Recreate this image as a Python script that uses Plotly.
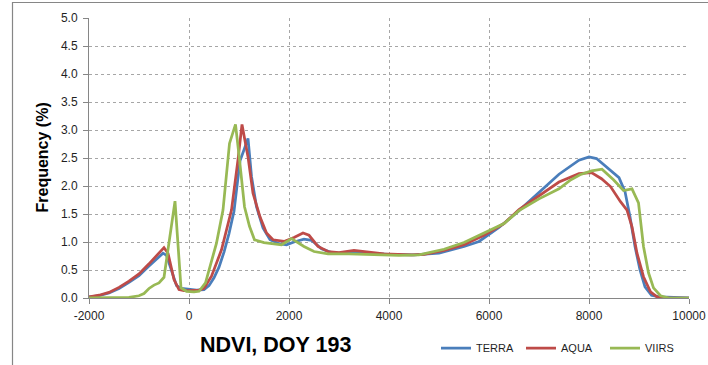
import plotly.graph_objects as go

# NDVI frequency distributions, DOY 193
terra_x = [-2000, -1800, -1600, -1400, -1200, -1000, -800, -600, -520, -450, -350, -250, -150, 0, 150, 300,
           400, 500, 600, 700, 800, 900, 1020, 1110, 1180, 1250, 1350, 1480, 1620, 1800, 1950, 2100, 2300,
           2450, 2650, 2850, 3000, 3300, 3600, 4000, 4500, 5000, 5500, 5800, 6200, 6600, 7000, 7400, 7800,
           8000, 8150, 8400, 8600, 8720, 8820, 8920, 9020, 9120, 9250, 9400, 9600, 10000]
terra_y = [0.02, 0.04, 0.09, 0.17, 0.28, 0.40, 0.57, 0.74, 0.80, 0.76, 0.50, 0.22, 0.17, 0.15, 0.14, 0.15,
           0.22, 0.36, 0.55, 0.82, 1.15, 1.55, 2.45, 2.67, 2.85, 2.17, 1.63, 1.25, 1.04, 0.97, 0.95, 1.00, 1.05,
           1.03, 0.88, 0.81, 0.80, 0.80, 0.80, 0.78, 0.77, 0.80, 0.92, 1.01, 1.26, 1.56, 1.88, 2.21, 2.46,
           2.52, 2.49, 2.30, 2.15, 1.90, 1.45, 0.92, 0.50, 0.20, 0.05, 0.02, 0.01, 0.00]

aqua_x = [-2000, -1800, -1600, -1400, -1200, -1000, -800, -600, -500, -420, -300, -200, -100, 0, 200, 300,
          450, 650, 850, 980, 1060, 1180, 1280, 1420, 1550, 1680, 1900, 2100, 2280, 2400, 2580, 2780, 3000,
          3300, 3600, 3900, 4450, 4700, 5100, 5500, 5900, 6300, 6600, 7000, 7400, 7800, 8050, 8250, 8430,
          8630, 8760, 8860, 8960, 9090, 9230, 9360, 9600, 10000]
aqua_y = [0.02, 0.05, 0.10, 0.19, 0.30, 0.43, 0.61, 0.80, 0.90, 0.80, 0.33, 0.15, 0.13, 0.13, 0.14, 0.17,
          0.39, 0.86, 1.57, 2.47, 3.10, 2.52, 1.87, 1.45, 1.16, 1.04, 1.01, 1.08, 1.16, 1.12, 0.92, 0.83, 0.81,
          0.85, 0.82, 0.79, 0.77, 0.78, 0.85, 0.95, 1.12, 1.33, 1.58, 1.83, 2.07, 2.22, 2.24, 2.13, 1.99,
          1.72, 1.57, 1.27, 0.80, 0.38, 0.11, 0.02, 0.00, 0.00]

viirs_x = [-2000, -1600, -1300, -1200, -1000, -900, -800, -700, -600, -500, -280, -160, -50, 100, 200, 330,
           550, 680, 810, 930, 1010, 1110, 1210, 1310, 1500, 1850, 2050, 2300, 2500, 2780, 3200, 3600, 4000,
           4200, 4600, 5100, 5500, 5900, 6300, 6600, 7000, 7400, 7620, 7820, 8050, 8260, 8490, 8690, 8860,
           8990, 9090, 9190, 9290, 9430, 9600, 10000]
viirs_y = [0.00, 0.00, 0.00, 0.01, 0.04, 0.08, 0.17, 0.23, 0.27, 0.37, 1.73, 0.18, 0.12, 0.11, 0.12, 0.27,
           0.98, 1.57, 2.76, 3.10, 2.47, 1.63, 1.28, 1.04, 0.99, 0.95, 1.06, 0.92, 0.83, 0.79, 0.79, 0.78, 0.77,
           0.76, 0.77, 0.87, 0.99, 1.16, 1.33, 1.56, 1.77, 1.95, 2.10, 2.20, 2.27, 2.30, 2.11, 1.92, 1.95,
           1.70, 0.92, 0.45, 0.18, 0.04, 0.00, 0.00]

x_ticks = [-2000, 0, 2000, 4000, 6000, 8000, 10000]
x_tick_labels = ["-2000", "0", "2000", "4000", "6000", "8000", "10000"]
y_ticks = [0.0, 0.5, 1.0, 1.5, 2.0, 2.5, 3.0, 3.5, 4.0, 4.5, 5.0]

# name, x, y, colour, legend id, legend left edge (px)
series = [
    ("TERRA", terra_x, terra_y, "#4A7EBB", "legend", 436),
    ("AQUA", aqua_x, aqua_y, "#BE4B48", "legend2", 521),
    ("VIIRS", viirs_x, viirs_y, "#98B954", "legend3", 605),
]

fig = go.Figure()
for name, xs, ys, color, leg, _ in series:
    fig.add_trace(go.Scatter(x=xs, y=ys, mode="lines", name=name, legend=leg,
                             line=dict(color=color, width=2.75)))

font_family = "Liberation Sans"
axis_color = "#868686"
grid_color = "#A6A6A6"

# plot area in pixels: x 89..689, y 18..298
L, R, T, B = 89, 19, 18, 67
PW, PH = 708 - L - R, 365 - T - B


def px_x(p):
    return (p - L) / PW


def px_y(p):
    return (365 - B - p) / PH


legends = {}
for name, _, _, _, leg, left in series:
    legends[leg] = dict(orientation="h", xref="container", yref="container",
                        x=left / 708, y=17 / 365, xanchor="left", yanchor="middle",
                        font=dict(size=11, color="#1F1F1F"), bgcolor="rgba(0,0,0,0)",
                        itemwidth=30)

fig.update_layout(
    width=708, height=365,
    margin=dict(l=L, r=R, t=T, b=B, autoexpand=False),
    paper_bgcolor="white", plot_bgcolor="white",
    font=dict(family=font_family, size=12, color="#1F1F1F"),
    showlegend=True,
    **legends,
    xaxis=dict(range=[-2000, 10000], tickvals=x_ticks, ticktext=x_tick_labels,
               showgrid=True, gridcolor=grid_color, griddash="dot", gridwidth=1,
               showline=True, linecolor=axis_color, linewidth=1, automargin=False,
               ticks="outside", ticklen=5, tickcolor=axis_color, zeroline=False,
               ticklabelstandoff=2, tickfont=dict(size=12)),
    yaxis=dict(range=[0, 5], tickvals=y_ticks, tickformat=".1f",
               showgrid=True, gridcolor=grid_color, griddash="dot", gridwidth=1,
               showline=True, linecolor=axis_color, linewidth=1, automargin=False,
               ticks="outside", ticklen=5, tickcolor=axis_color, zeroline=False,
               ticklabelstandoff=3, tickfont=dict(size=12)),
    annotations=[
        dict(text="<b>Frequency (%)</b>", xref="paper", yref="paper",
             x=px_x(42), y=px_y(157.5), textangle=-90, showarrow=False,
             xanchor="center", yanchor="middle",
             font=dict(size=16, color="#000000")),
        dict(text="<b>NDVI, DOY 193</b>", xref="paper", yref="paper",
             x=px_x(275), y=px_y(345), showarrow=False,
             xanchor="center", yanchor="middle",
             font=dict(size=21.5, color="#000000")),
    ],
    shapes=[
        dict(type="rect", xref="paper", yref="paper",
             x0=px_x(12.5), x1=px_x(712), y0=px_y(372), y1=px_y(2.5),
             line=dict(color=axis_color, width=1.2), fillcolor="rgba(0,0,0,0)", layer="below"),
    ],
)

fig.write_html("out.html")
